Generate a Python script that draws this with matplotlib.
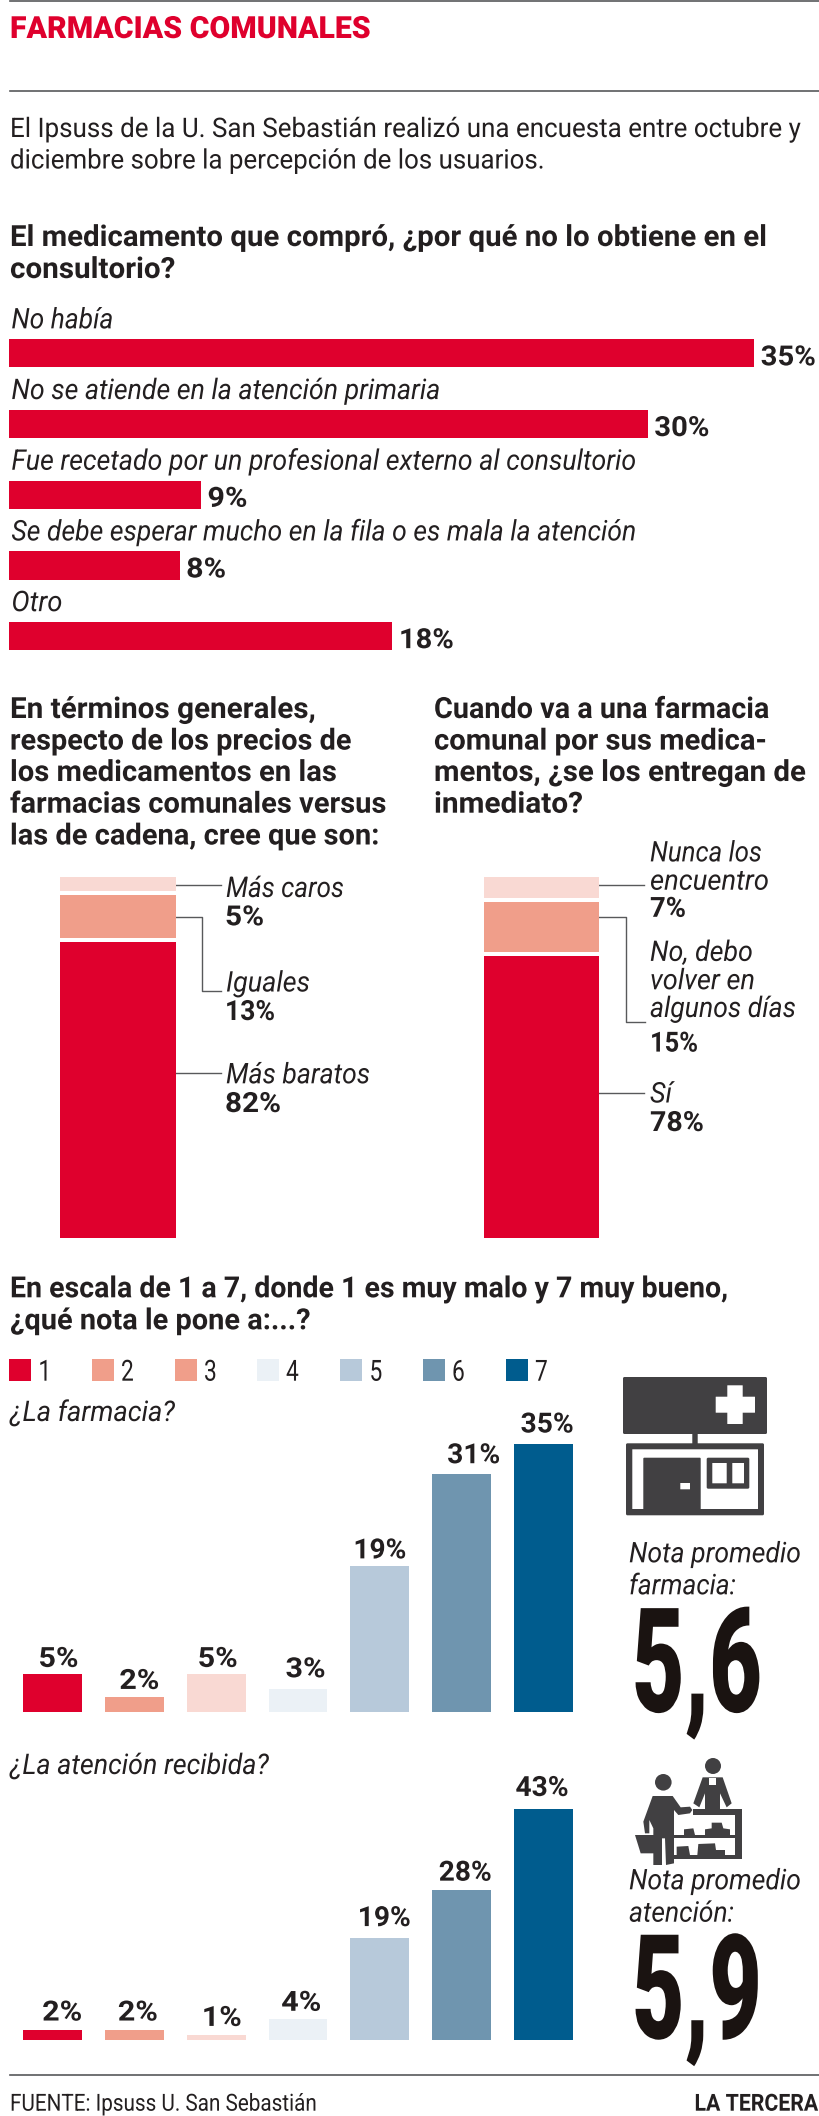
import matplotlib
matplotlib.use("Agg")
import matplotlib.pyplot as plt
from matplotlib.patches import Rectangle, Polygon, Circle, FancyBboxPatch
from matplotlib.patheffects import AbstractPathEffect
from matplotlib.transforms import Affine2D

W, H = 820, 2116
RED = "#DF002D"
SALMON = "#F09E8A"
PINK = "#F9D9D3"
INK = "#231F20"
ICON = "#414042"
RULE = "#58595B"

# --- Data ---
reason_labels = ["No había", "No se atiende en la atención primaria",
                 "Fue recetado por un profesional externo al consultorio",
                 "Se debe esperar mucho en la fila o es mala la atención", "Otro"]
reason_values = [35, 30, 9, 8, 18]
reason_label_w = [102, 429, 625, 625, 51]

price_values = [82, 13, 5]
stock_values = [78, 15, 7]
stack_colors = [RED, SALMON, PINK]

grades = ["1", "2", "3", "4", "5", "6", "7"]
legend_colors = [RED, SALMON, SALMON, "#EBF1F6", "#B7C9DA", "#6F95AF", "#005C8E"]
bar_colors = [RED, SALMON, PINK, "#EBF1F6", "#B7C9DA", "#6F95AF", "#005C8E"]
farmacia_values = [5, 2, 5, 3, 19, 31, 35]
atencion_values = [2, 2, 1, 4, 19, 28, 43]

# label nudges in px, as the labels in the print version sit off centre
farmacia_dx = [6, 5, 1.5, 7.5, 0, 12, 3.5]
farmacia_dy = [7, 8, 7, 12, 8, 11, 11]
atencion_dx = [9.7, 3.5, 5.7, 3.2, 4.4, 3.5, -1.6]
atencion_dy = [9, 9, 9, 8, 12, 9, 13]


class Squeeze(AbstractPathEffect):
    # condensed look: scales the glyph outlines, sy about the baseline
    def __init__(self, sx, center=False, sy=1):
        super().__init__()
        self.sx = sx
        self.sy = sy
        self.center = center

    def draw_path(self, renderer, gc, tpath, affine, rgbFace=None):
        a = 0
        if self.center:
            ext = tpath.get_extents()
            a = (ext.x0 + ext.x1) / 2
        t = Affine2D().translate(-a, 0).scale(self.sx, self.sy).translate(a, 0)
        renderer.draw_path(gc, tpath, t + affine, rgbFace)


plt.rcParams["font.family"] = ["Roboto", "DejaVu Sans"]
fig = plt.figure(figsize=(W / 100, H / 100), dpi=100, facecolor="white")
renderer = fig.canvas.get_renderer()


def fit(t, width, center=False, sy=1):
    sx = width / t.get_window_extent(renderer).width
    t.set_path_effects([Squeeze(sx, center, sy)])
    return t


def px_axes(x0, y0, x1, y1):
    a = fig.add_axes([x0 / W, 1 - y1 / H, (x1 - x0) / W, (y1 - y0) / H])
    a.axis("off")
    return a


# overlay in pixel coords for the text, rules and icons
ov = px_axes(0, 0, W, H)
ov.set_xlim(0, W)
ov.set_ylim(H, 0)


def put(x, y, s, size, width, weight="normal", style="normal", color=INK, sy=1):
    t = ov.text(x, y, s, fontsize=size, fontweight=weight, fontstyle=style,
                color=color, va="baseline", ha="left")
    return fit(t, width, sy=sy)


def lines(x, ys, texts, widths, size, **kw):
    for y, s, w in zip(ys, texts, widths):
        put(x, y, s, size, w, **kw)


def pct_width(v):
    return 40 if v < 10 else 53


# --- Header ---
ov.plot([10, W], [0.5, 0.5], color=RULE, lw=1.2)
ov.plot([10, W], [91, 91], color=RULE, lw=1.2)
put(10, 38, "FARMACIAS COMUNALES", 22, 360, weight="black", color=RED)
lines(10, [137, 168.5],
      ["El Ipsuss de la U. San Sebastián realizó una encuesta entre octubre y",
       "diciembre sobre la percepción de los usuarios."],
      [788, 533], 17.5, sy=1.11)
lines(10, [246, 278],
      ["El medicamento que compró, ¿por qué no lo obtiene en el", "consultorio?"],
      [757, 165], 21, weight="bold")

# --- Horizontal bars ---
ax1 = px_axes(9.4, 318, 9.4 + 21.28 * 38, 671.5)
ax1.set_xlim(0, 38)
ax1.set_ylim(4.5, -0.5)
ax1.barh(range(len(reason_values)), reason_values, height=0.4, color=RED)
for i, v in enumerate(reason_values):
    t = ax1.annotate(f"{v}%", (v, i), xytext=(6.5, -12), textcoords="offset pixels",
                     fontsize=20, fontweight="bold", color=INK, va="baseline", ha="left")
    fit(t, 55 if v >= 10 else 40)
    t = ax1.annotate(reason_labels[i], (0, i), xytext=(2, 25), textcoords="offset pixels",
                     fontsize=20.5, fontstyle="italic", color=INK, va="baseline", ha="left")
    fit(t, reason_label_w[i])

# --- Stacked bars ---
lines(10, [718, 749.6, 781, 812.7, 844.5],
      ["En términos generales,", "respecto de los precios de", "los medicamentos en las",
       "farmacias comunales versus", "las de cadena, cree que son:"],
      [306, 342, 327, 377, 370], 21, weight="bold")
lines(434, [718, 749.6, 781, 812.7],
      ["Cuando va a una farmacia", "comunal por sus medica-",
       "mentos, ¿se los entregan de", "inmediato?"],
      [336, 333, 372, 149], 21, weight="bold")


def stack(x0, x1, values):
    a = px_axes(x0, 876.7, x1, 1237.5)
    a.set_xlim(0, 1)
    a.set_ylim(0, sum(values))
    bottom = 0
    for i, v in enumerate(values):
        # 1 point of white between the segments
        gap = 1 if i > 0 else 0
        a.bar(0.5, v - gap, width=1, bottom=bottom + gap, color=stack_colors[i])
        bottom += v
    return a


stack(59.6, 175.7, price_values)
stack(484.3, 598.8, stock_values)

leaders = [
    ([173, 221], [885, 885]),
    ([174, 202, 202, 221], [917, 917, 991, 991]),
    ([173, 221], [1073, 1073]),
    ([596, 644], [885, 885]),
    ([598, 626, 626, 645], [917, 917, 1022, 1022]),
    ([597, 644], [1093, 1093]),
]
for xs, ys in leaders:
    ov.plot(xs, ys, color=RULE, lw=1)

it = dict(size=20.5, style="italic")
bd = dict(size=20, weight="bold")
put(226, 897, "Más caros", width=118, **it)
put(225, 925.3, f"{price_values[2]}%", width=39, **bd)
put(226, 991.5, "Iguales", width=84, **it)
put(225, 1020, f"{price_values[1]}%", width=50, **bd)
put(226, 1083.3, "Más baratos", width=144, **it)
put(225, 1112, f"{price_values[0]}%", width=56, **bd)
put(650, 861.4, "Nunca los", width=112, **it)
put(650, 889.7, "encuentro", width=119, **it)
put(650, 916.8, f"{stock_values[2]}%", width=36, **bd)
put(650, 960.9, "No, debo", width=103, **it)
put(650, 989.2, "volver en", width=105, **it)
put(650, 1017, "algunos días", width=146, **it)
put(650, 1051.6, f"{stock_values[1]}%", width=48, **bd)
put(650, 1102.5, "Sí", width=22, **it)
put(650, 1131, f"{stock_values[0]}%", width=54, **bd)

# --- Grades ---
lines(10, [1297.3, 1329.3],
      ["En escala de 1 a 7, donde 1 es muy malo y 7 muy bueno,", "¿qué nota le pone a:...?"],
      [718, 300], 21, weight="bold")
for g, c, x in zip(grades, legend_colors, [9.4, 92, 175, 257, 340.5, 423, 506]):
    ov.add_patch(Rectangle((x, 1359.3), 22, 21.4, color=c, lw=0))
    t = ov.text(x + 29, 1380.7, g, fontsize=21, fontweight="normal", color=INK, va="baseline")
    t.set_path_effects([Squeeze(0.78)])
put(10, 1421, "¿La farmacia?", 20.5, 165, style="italic")
put(10, 1774, "¿La atención recibida?", 20.5, 259, style="italic")


def grade_bars(values, px_per_pct, base_y, dx, dy):
    top = base_y - px_per_pct * 50
    a = px_axes(11.5, top, 584.5, base_y)
    a.set_xlim(-0.5, 6.5)
    a.set_ylim(0, 50)
    a.bar(range(7), values, width=0.72, color=bar_colors)
    for i, v in enumerate(values):
        t = a.annotate(f"{v}%", (i, v), xytext=(dx[i], dy[i]), textcoords="offset pixels",
                       fontsize=20, fontweight="bold", color=INK, va="baseline", ha="center")
        fit(t, pct_width(v), center=True)


grade_bars(farmacia_values, 7.68, 1712.3, farmacia_dx, farmacia_dy)
grade_bars(atencion_values, 5.38, 2040.3, atencion_dx, atencion_dy)

lines(629, [1562.3, 1594.3], ["Nota promedio", "farmacia:"], [172, 107], 20.5, style="italic")
lines(629, [1889.3, 1921.7], ["Nota promedio", "atención:"], [172, 105], 20.5, style="italic")
# drawn at 76pt and stretched up, the digits are about 105 px tall
put(632, 1711.7, "5,6", 76, 130, weight="black", color="#1A1311", sy=1.38)
put(632, 2038.3, "5,9", 76, 130, weight="black", color="#1A1311", sy=1.38)


# --- Icons ---
def box(x0, y0, x1, y1, c=ICON, r=1.5):
    ov.add_patch(FancyBboxPatch((x0 + r, y0 + r), x1 - x0 - 2 * r, y1 - y0 - 2 * r,
                                boxstyle=f"round,pad={r}", color=c, lw=0))


box(623, 1377, 767, 1434)
box(715.7, 1396.7, 755, 1412.7, "white", 0.3)
box(727.3, 1385.3, 742.7, 1424, "white", 0.3)
box(692.3, 1434, 697.7, 1444, r=0.2)
box(626, 1443.3, 764, 1515.3)
box(632.3, 1449.3, 758, 1509, "white", 0.2)
box(643.3, 1457.7, 700.7, 1515, r=1)
box(680.3, 1483, 690, 1489.3, "white", 0.2)
box(706.7, 1457.7, 749.3, 1488.7)
box(712.3, 1463, 726.7, 1483.3, "white", 0.2)
box(732.3, 1463, 744, 1483.3, "white", 0.2)


def shape(pts, c=ICON):
    ov.add_patch(Polygon([(610 + x / 3, 1770 + y / 3) for x, y in pts], closed=True, color=c, lw=0))


ov.add_patch(Circle((663.3, 1782.3), 8.3, color=ICON, lw=0))
ov.add_patch(Circle((713, 1766), 8, color=ICON, lw=0))
shape([(128, 78), (188, 78), (212, 112), (240, 110), (247, 120), (240, 130), (205, 135), (192, 120),
       (192, 280), (168, 285), (165, 205), (156, 205), (156, 285), (130, 285), (130, 175), (118, 150),
       (118, 190), (105, 190), (100, 155)])
shape([(75, 195), (150, 195), (135, 250), (92, 250)])
shape([(250, 118), (395, 118), (395, 268), (190, 268), (190, 255), (375, 255), (375, 136), (250, 136)])
shape([(190, 195), (375, 195), (375, 205), (190, 205)])
shape([(222, 195), (222, 178), (250, 175), (255, 195)])
shape([(285, 195), (285, 178), (305, 175), (305, 158), (335, 158), (340, 175), (360, 178), (360, 195)])
shape([(200, 255), (200, 230), (235, 228), (240, 255)])
shape([(262, 255), (265, 222), (315, 220), (318, 240), (345, 240), (345, 255)])
shape([(278, 22), (338, 22), (365, 100), (350, 112), (330, 70), (330, 118), (285, 118), (285, 70),
       (268, 112), (250, 100)])
shape([(298, 25), (318, 25), (318, 45), (298, 45)], "white")

# --- Footer ---
ov.plot([10, W], [2075, 2075], color=RULE, lw=1.2)
put(10, 2110.7, "FUENTE: Ipsuss U. San Sebastián", 17, 307)
put(694.5, 2110.7, "LA TERCERA", 15, 124, weight="bold", sy=1.13)

fig.savefig("out.png", dpi=100)
